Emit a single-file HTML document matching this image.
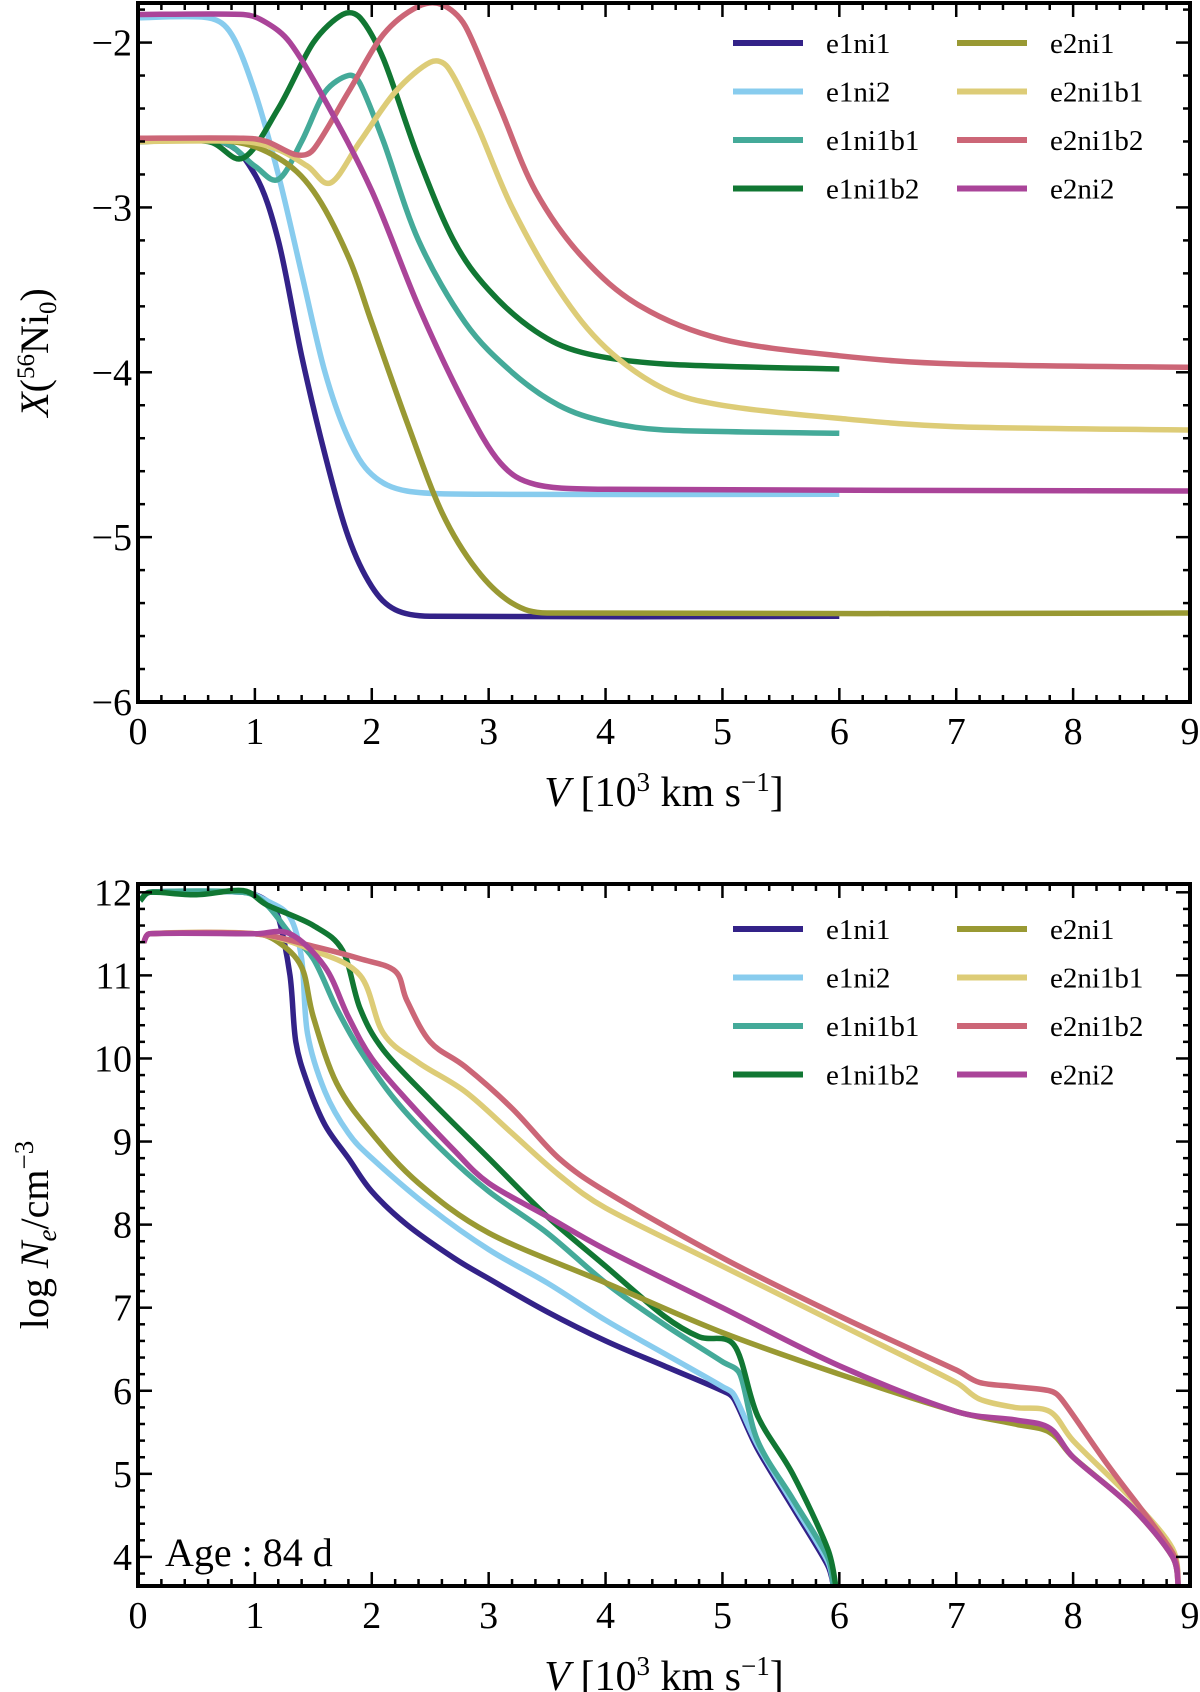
<!DOCTYPE html>
<html><head><meta charset="utf-8"><style>
html,body{margin:0;padding:0;background:#fff;}
svg{display:block;font-family:"Liberation Serif",serif;}
</style></head><body>
<svg id="fig" width="1200" height="1692" viewBox="0 0 1200 1692"></svg>
<script>
const names=["e1ni1","e1ni2","e1ni1b1","e1ni1b2","e2ni1","e2ni1b1","e2ni1b2","e2ni2"];
const colors=["#332288","#88ccee","#44aa99","#117733","#999933","#ddcc77","#cc6677","#aa4499"];
// top panel: [V, logX]
const topE1ni1=[[0,-2.6],[0.7,-2.6],[1.0,-2.8],[1.2,-3.2],[1.4,-3.9],[1.6,-4.5],[1.8,-5.0],[2.0,-5.3],[2.2,-5.44],[2.5,-5.48],[6,-5.48]];
const topE1ni2=[[0,-1.85],[0.6,-1.85],[0.8,-1.95],[1.0,-2.3],[1.2,-2.8],[1.4,-3.4],[1.6,-4.0],[1.8,-4.4],[2.0,-4.62],[2.3,-4.72],[3,-4.74],[6,-4.74]];
const topE1ni1b1=[[0,-2.6],[0.7,-2.6],[1.0,-2.75],[1.2,-2.83],[1.4,-2.6],[1.6,-2.3],[1.8,-2.2],[1.9,-2.25],[2.1,-2.6],[2.4,-3.2],[2.8,-3.7],[3.2,-4.0],[3.6,-4.2],[4,-4.3],[4.5,-4.35],[6,-4.37]];
const topE1ni1b2=[[0,-2.6],[0.6,-2.6],[0.9,-2.7],[1.2,-2.4],[1.5,-2.0],[1.75,-1.83],[1.9,-1.85],[2.1,-2.1],[2.4,-2.7],[2.7,-3.2],[3.0,-3.5],[3.4,-3.75],[3.8,-3.88],[4.5,-3.95],[6,-3.98]];
const topE2ni1=[[0,-2.6],[0.8,-2.6],[1.2,-2.7],[1.5,-2.9],[1.8,-3.3],[2.0,-3.7],[2.3,-4.3],[2.6,-4.85],[2.9,-5.2],[3.2,-5.4],[3.5,-5.46],[9,-5.46]];
const topE2ni1b1=[[0,-2.6],[0.9,-2.6],[1.2,-2.65],[1.45,-2.75],[1.65,-2.85],[1.9,-2.6],[2.2,-2.3],[2.5,-2.12],[2.65,-2.15],[2.9,-2.5],[3.2,-3.0],[3.6,-3.5],[4.0,-3.85],[4.5,-4.1],[5,-4.2],[6,-4.28],[7,-4.33],[9,-4.35]];
const topE2ni1b2=[[0,-2.58],[0.9,-2.58],[1.1,-2.6],[1.35,-2.68],[1.5,-2.65],[1.8,-2.3],[2.1,-1.95],[2.4,-1.78],[2.6,-1.77],[2.8,-1.9],[3.1,-2.4],[3.4,-2.9],[3.8,-3.3],[4.3,-3.6],[5,-3.8],[6,-3.9],[7,-3.95],[9,-3.97]];
const topE2ni2=[[0,-1.83],[0.9,-1.83],[1.1,-1.88],[1.3,-2.0],[1.6,-2.35],[2.0,-2.9],[2.4,-3.6],[2.8,-4.2],[3.1,-4.55],[3.4,-4.68],[4,-4.71],[9,-4.72]];
// bottom panel: [V, logNe]
const botE1ni1=[[0.02,11.9],[0.1,12.0],[0.9,12.0],[1.1,11.9],[1.2,11.7],[1.3,11.0],[1.35,10.2],[1.45,9.7],[1.6,9.2],[1.8,8.8],[2.0,8.4],[2.3,8.0],[2.7,7.6],[3,7.35],[3.5,6.95],[4,6.6],[4.5,6.3],[5,6.0],[5.1,5.9],[5.3,5.3],[5.6,4.6],[5.9,3.9],[5.95,3.65]];
const botE1ni2=[[0.02,11.9],[0.1,12.0],[0.9,12.0],[1.1,11.9],[1.3,11.7],[1.4,11.2],[1.45,10.3],[1.6,9.6],[1.8,9.1],[2.0,8.8],[2.5,8.2],[3,7.7],[3.5,7.3],[4,6.85],[4.5,6.45],[5,6.05],[5.1,5.95],[5.3,5.35],[5.6,4.65],[5.9,3.95],[5.95,3.65]];
const botE1ni1b1=[[0.02,11.9],[0.1,12.0],[0.9,12.0],[1.1,11.85],[1.3,11.5],[1.5,11.2],[1.7,10.6],[1.9,10.1],[2.2,9.5],[2.6,8.9],[3,8.4],[3.5,7.9],[4,7.3],[4.5,6.8],[5,6.35],[5.15,6.2],[5.3,5.4],[5.6,4.7],[5.9,4.0],[5.95,3.65]];
const botE1ni1b2=[[0.02,11.9],[0.1,12.0],[0.5,11.97],[0.9,12.02],[1.1,11.85],[1.5,11.6],[1.75,11.3],[1.9,10.6],[2.1,10.1],[2.5,9.5],[3,8.8],[3.5,8.1],[4,7.5],[4.5,6.9],[4.8,6.65],[5.1,6.55],[5.3,5.7],[5.6,5.0],[5.9,4.1],[5.97,3.65]];
const botE2ni1=[[0.05,11.4],[0.1,11.5],[1.0,11.5],[1.2,11.4],[1.4,11.1],[1.5,10.5],[1.7,9.7],[2.0,9.1],[2.4,8.5],[3,7.9],[4,7.3],[5,6.7],[6,6.2],[7,5.75],[7.5,5.6],[7.8,5.5],[8,5.2],[8.5,4.6],[8.85,4.0],[8.9,3.65]];
const botE2ni1b1=[[0.05,11.4],[0.1,11.5],[1.0,11.5],[1.5,11.3],[1.9,11.0],[2.1,10.3],[2.4,9.95],[2.8,9.6],[3.2,9.1],[3.6,8.6],[4,8.2],[5,7.5],[6,6.8],[7,6.1],[7.2,5.9],[7.5,5.8],[7.8,5.75],[8,5.4],[8.5,4.7],[8.85,4.1],[8.9,3.65]];
const botE2ni1b2=[[0.05,11.4],[0.1,11.5],[1.0,11.5],[1.5,11.35],[1.9,11.2],[2.2,11.05],[2.3,10.7],[2.5,10.2],[2.8,9.9],[3.2,9.4],[3.6,8.8],[4,8.4],[5,7.6],[6,6.9],[7,6.25],[7.2,6.1],[7.5,6.05],[7.8,6.0],[7.9,5.9],[8.3,5.1],[8.85,4.05],[8.9,3.65]];
const botE2ni2=[[0.05,11.4],[0.1,11.5],[1.0,11.5],[1.3,11.5],[1.6,11.1],[1.8,10.5],[2.0,10.0],[2.3,9.5],[2.7,8.9],[3,8.5],[3.5,8.1],[4,7.7],[5,7.0],[6,6.3],[7,5.75],[7.5,5.65],[7.8,5.55],[8,5.2],[8.5,4.6],[8.85,4.0],[8.9,3.65]];
const xTicks=[0,1,2,3,4,5,6,7,8,9];
const topYTicks=[-6,-5,-4,-3,-2];
const botYTicks=[4,5,6,7,8,9,10,11,12];

const topSeries=[topE1ni1,topE1ni2,topE1ni1b1,topE1ni1b2,topE2ni1,topE2ni1b1,topE2ni1b2,topE2ni2];
const botSeries=[botE1ni1,botE1ni2,botE1ni1b1,botE1ni1b2,botE2ni1,botE2ni1b1,botE2ni1b2,botE2ni2];
const NS="http://www.w3.org/2000/svg";
const svg=document.getElementById('fig');
function mk(tag,attrs,parent){const e=document.createElementNS(NS,tag);for(const k in attrs)e.setAttribute(k,attrs[k]);(parent||svg).appendChild(e);return e;}
function smoothPath(P){
  let d='M'+P[0][0].toFixed(1)+','+P[0][1].toFixed(1);
  for(let i=0;i<P.length-1;i++){
    const p0=P[Math.max(0,i-1)],p1=P[i],p2=P[i+1],p3=P[Math.min(P.length-1,i+2)];
    const t=0.35;
    let c1x=p1[0]+(p2[0]-p0[0])*t/2*(p2[0]-p1[0])/Math.max(1e-6,(p2[0]-p0[0])/2)*0+ (p2[0]-p0[0])/6;
    let c1y=p1[1]+(p2[1]-p0[1])/6;
    let c2x=p2[0]-(p3[0]-p1[0])/6;
    let c2y=p2[1]-(p3[1]-p1[1])/6;
    // limit control length to segment span
    const seg=Math.hypot(p2[0]-p1[0],p2[1]-p1[1]);
    function lim(px,py,cx,cy){const l=Math.hypot(cx-px,cy-py);if(l>seg*0.4){const f=seg*0.4/l;return [px+(cx-px)*f,py+(cy-py)*f];}return [cx,cy];}
    [c1x,c1y]=lim(p1[0],p1[1],c1x,c1y);[c2x,c2y]=lim(p2[0],p2[1],c2x,c2y);
    d+=' C'+c1x.toFixed(1)+','+c1y.toFixed(1)+' '+c2x.toFixed(1)+','+c2y.toFixed(1)+' '+p2[0].toFixed(1)+','+p2[1].toFixed(1);
  }
  return d;
}

function panel(opt){
  const L=138,R=1190,T=opt.top,B=opt.bottom;
  const xs=v=>L+(v-0)/9*(R-L);
  const ys=v=>B-(v-opt.ymin)/(opt.ymax-opt.ymin)*(B-T);
  const g=mk('g',{});
  
  
  const defs=mk('clipPath',{id:opt.name+'-clip'},g);
  mk('rect',{x:L,y:T,width:R-L,height:B-T},defs);
  const lg=mk('g',{'clip-path':'url(#'+opt.name+'-clip)'},g);
  opt.series.forEach((s,i)=>{
    const pts=s.map(d=>[xs(d[0]),ys(d[1])]);
    const p=mk('path',{d:smoothPath(pts),fill:'none',stroke:colors[i],'stroke-width':5.5,'stroke-linejoin':'round'},lg);
    
    
  });
  for(let v=0;v<=9.001;v+=0.2){
    const major=Math.abs(v-Math.round(v))<1e-6;const len=major?14:7;const x=xs(v);
    mk('line',{x1:x,y1:B,x2:x,y2:B-len,stroke:'#000','stroke-width':2.5},g);
    mk('line',{x1:x,y1:T,x2:x,y2:T+len,stroke:'#000','stroke-width':2.5},g);
  }
  for(let v=Math.ceil(opt.ymin/opt.minor)*opt.minor;v<=opt.ymax+1e-6;v+=opt.minor){
    const major=Math.abs(v-Math.round(v))<1e-6;const len=major?14:7;const y=ys(v);
    mk('line',{x1:L,y1:y,x2:L+len,y2:y,stroke:'#000','stroke-width':2.5},g);
    mk('line',{x1:R,y1:y,x2:R-len,y2:y,stroke:'#000','stroke-width':2.5},g);
  }
  const fr=mk('rect',{x:L,y:T,width:R-L,height:B-T,fill:'none',stroke:'#000','stroke-width':4},g);
  
  
  xTicks.forEach(v=>{const t=mk('text',{x:xs(v),y:B+42,'font-size':38,'text-anchor':'middle'},g);t.textContent=v;
    
    });
  opt.yticks.forEach(v=>{const t=mk('text',{x:L-6,y:ys(v)+13,'font-size':38,'text-anchor':'end'},g);t.textContent=v<0?'\u2212'+(-v):v;
    
    });
  const xl=mk('text',{x:(L+R)/2,y:B+104,'font-size':42,'text-anchor':'middle'},g);
  
  
  xl.innerHTML='<tspan font-style="italic">V</tspan> [10<tspan dy="-15" font-size="27">3</tspan><tspan dy="15"> km s</tspan><tspan dy="-15" font-size="27">\u22121</tspan><tspan dy="15">]</tspan>';
  const yl=mk('text',{x:0,y:0,'font-size':40,'text-anchor':'middle',transform:'translate(48,'+((T+B)/2)+') rotate(-90)'},g);
  
  
  yl.innerHTML=opt.ylabel;
  const lx=[733,957],ly=opt.legY;
  names.forEach((n,i)=>{const c=Math.floor(i/4),r=i%4;
    const e=mk('g',{},g);
    
    
    mk('line',{x1:lx[c],y1:ly+r*48.5,x2:lx[c]+70,y2:ly+r*48.5,stroke:colors[i],'stroke-width':6},e);
    const t=mk('text',{x:lx[c]+93,y:ly+r*48.5+10,'font-size':29},e);t.textContent=n;});
  return {xs,ys,g};
}
panel({name:'top-panel',top:3,bottom:702,ymin:-6,ymax:-1.76,minor:0.2,yticks:topYTicks,series:topSeries,legY:43,
  ylabel:'<tspan font-style="italic">X</tspan>(<tspan dy="-14" font-size="25">56</tspan><tspan dy="14">Ni</tspan><tspan dy="8" font-size="25">0</tspan><tspan dy="-8">)</tspan>'});
const bp=panel({name:'bottom-panel',top:884,bottom:1586,ymin:3.65,ymax:12.1,minor:0.2,yticks:botYTicks,series:botSeries,legY:929,
  ylabel:'log <tspan font-style="italic">N</tspan><tspan dy="8" font-size="27" font-style="italic">e</tspan><tspan dy="-8">/cm</tspan><tspan dy="-15" font-size="27">\u22123</tspan>'});
const age=mk('text',{x:165,y:1566,'font-size':40},bp.g);


age.textContent='Age : 84 d';
</script>
</body></html>
